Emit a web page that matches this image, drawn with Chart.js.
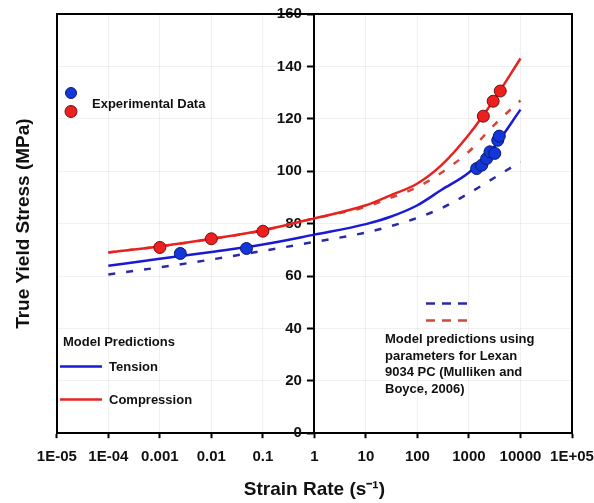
<!DOCTYPE html>
<html>
<head>
<meta charset="utf-8">
<script src="https://cdn.jsdelivr.net/npm/chart.js@4.4.1/dist/chart.umd.min.js"></script>
<style>
  body { margin: 0; background: #fff; }
  #wrap { width: 594px; height: 503px; }
</style>
</head>
<body>
<div id="wrap"><canvas id="myChart"></canvas></div>
<script>
// Decades along the x-axis and how they are written
var rateTicks = [1e-5, 1e-4, 1e-3, 1e-2, 1e-1, 1, 10, 100, 1000, 10000, 1e5];
var rateLabels = ['1E-05', '1E-04', '0.001', '0.01', '0.1', '1', '10', '100', '1000', '10000', '1E+05'];

// Model curves
var modelRates = [1e-4, 1e-3, 1e-2, 1e-1, 1, 10, 30, 100, 300, 1000, 3000, 10000];
var tensionModel = [63.9, 66.6, 69.2, 72.0, 75.8, 79.8, 82.6, 87.0, 93.0, 99.5, 109.0, 123.5];
var compressionModel = [69.0, 71.3, 74.2, 77.5, 82.0, 87.0, 90.8, 95.3, 102.5, 114.0, 127.0, 143.0];
var tensionLexan = [60.6, 63.3, 66.3, 69.6, 73.0, 76.6, 79.0, 82.2, 86.0, 91.6, 97.3, 103.6];
var compressionLexan = [69.0, 71.3, 74.1, 77.4, 82.0, 86.4, 89.8, 93.9, 99.6, 107.5, 117.4, 127.0];

// Experimental data
var tensionRates = [0.0025, 0.048, 1410, 1770, 2200, 2560, 3170, 3620, 3880];
var tensionStress = [68.6, 70.5, 101.0, 102.3, 104.8, 107.4, 106.8, 111.8, 113.4];
var compressionRates = [0.001, 0.01, 0.1, 1900, 2950, 4050];
var compressionStress = [70.9, 74.2, 77.1, 121.0, 126.7, 130.6];

function pairs(xs, ys) {
  return xs.map(function (x, i) { return { x: x, y: ys[i] }; });
}

var FONT = '"Liberation Sans", Arial, sans-serif';
Chart.defaults.font.family = FONT;
Chart.defaults.font.weight = 'bold';
Chart.defaults.color = '#111';

var faint = 'rgba(0,0,0,0.06)';

// hand-drawn legend blocks inside the plot
var notes = {
  id: 'notes',
  afterDraw: function (chart) {
    var ctx = chart.ctx;
    ctx.save();
    ctx.font = 'bold 13px ' + FONT;
    ctx.fillStyle = '#111';
    ctx.textBaseline = 'middle';

    // experimental data
    ctx.lineWidth = 1;
    ctx.beginPath(); ctx.arc(71, 93, 5.5, 0, Math.PI * 2);
    ctx.fillStyle = '#1336d8'; ctx.fill(); ctx.strokeStyle = '#0a1a70'; ctx.stroke();
    ctx.beginPath(); ctx.arc(71, 111.5, 6, 0, Math.PI * 2);
    ctx.fillStyle = '#ee1f1f'; ctx.fill(); ctx.strokeStyle = '#701010'; ctx.stroke();
    ctx.fillStyle = '#111';
    ctx.fillText('Experimental Data', 92, 104.5);

    // model predictions
    ctx.fillText('Model Predictions', 63, 342);
    ctx.lineWidth = 2.5;
    ctx.strokeStyle = '#1a1ad6';
    ctx.beginPath(); ctx.moveTo(60, 366.5); ctx.lineTo(102, 366.5); ctx.stroke();
    ctx.strokeStyle = '#e8231f';
    ctx.beginPath(); ctx.moveTo(60, 399.5); ctx.lineTo(102, 399.5); ctx.stroke();
    ctx.fillText('Tension', 109, 367);
    ctx.fillText('Compression', 109, 400);

    // Lexan predictions
    ctx.setLineDash([9, 7]);
    ctx.strokeStyle = '#2a2aa6';
    ctx.beginPath(); ctx.moveTo(426, 303.5); ctx.lineTo(467, 303.5); ctx.stroke();
    ctx.strokeStyle = '#d0483c';
    ctx.beginPath(); ctx.moveTo(426, 320.5); ctx.lineTo(467, 320.5); ctx.stroke();
    ctx.setLineDash([]);
    var lines = ['Model predictions using', 'parameters for Lexan', '9034 PC (Mulliken and', 'Boyce, 2006)'];
    lines.forEach(function (t, i) { ctx.fillText(t, 385, 339.5 + i * 16.5); });
    ctx.restore();
  }
};

var ctx = document.getElementById('myChart');
var myChart = new Chart(ctx, {
  type: 'line',
  data: {
    datasets: [
      {
        data: pairs(tensionRates, tensionStress),
        showLine: false,
        pointRadius: 6,
        pointBackgroundColor: '#1336d8',
        pointBorderColor: '#0a1a70',
        pointBorderWidth: 1,
        order: 0
      },
      {
        data: pairs(compressionRates, compressionStress),
        showLine: false,
        pointRadius: 6,
        pointBackgroundColor: '#ee1f1f',
        pointBorderColor: '#701010',
        pointBorderWidth: 1,
        order: 0
      },
      {
        data: pairs(modelRates, tensionModel),
        borderColor: '#1a1ad6',
        borderWidth: 2.5,
        pointRadius: 0,
        fill: false,
        cubicInterpolationMode: 'monotone',
        order: 1
      },
      {
        data: pairs(modelRates, compressionModel),
        borderColor: '#e8231f',
        borderWidth: 2.5,
        pointRadius: 0,
        fill: false,
        cubicInterpolationMode: 'monotone',
        order: 1
      },
      {
        data: pairs(modelRates, tensionLexan),
        borderColor: '#2a2aa6',
        borderWidth: 2.5,
        borderDash: [7, 11],
        pointRadius: 0,
        fill: false,
        cubicInterpolationMode: 'monotone',
        order: 2
      },
      {
        data: pairs(modelRates, compressionLexan),
        borderColor: '#d0483c',
        borderWidth: 2.5,
        borderDash: [7, 11],
        pointRadius: 0,
        fill: false,
        cubicInterpolationMode: 'monotone',
        order: 2
      }
    ]
  },
  options: {
    responsive: true,
    maintainAspectRatio: false,
    animation: false,
    layout: { padding: { left: 10, top: 14, right: 2, bottom: 2 } },
    plugins: { legend: { display: false }, tooltip: { enabled: false } },
    scales: {
      x: {
        type: 'logarithmic',
        position: 'bottom',
        min: 1e-5,
        max: 1e5,
        afterBuildTicks: function (scale) {
          scale.ticks = rateTicks.map(function (v) { return { value: v }; });
        },
        // tick padding also widens the side margin; keep only room for the half label
        afterFit: function (scale) { scale.paddingRight = 22; },
        ticks: {
          autoSkip: false,
          maxRotation: 0,
          padding: 10,
          font: { size: 15 },
          callback: function (v, i) { return rateLabels[i]; }
        },
        grid: { color: faint, tickColor: '#000', tickLength: 5, tickWidth: 2 },
        border: { color: '#000', width: 2 },
        title: {
          display: true,
          text: 'Strain Rate (s\u207B\u00B9)',
          font: { size: 19 },
          padding: { top: 2, bottom: 0 }
        }
      },
      y: {
        type: 'linear',
        position: { x: 1 },
        min: 0,
        max: 160,
        // labels sit right against the centred axis, so pad them with spaces
        ticks: { stepSize: 20, font: { size: 15 }, callback: function (v) { return v + '   '; } },
        grid: { color: faint, tickColor: '#000', tickLength: 6, tickWidth: 2 },
        border: { color: '#000', width: 2 }
      },
      yl: {
        type: 'linear',
        position: 'left',
        min: 0,
        max: 160,
        ticks: { display: false },
        grid: { display: false, drawTicks: false },
        border: { color: '#000', width: 2 },
        title: {
          display: true,
          text: 'True Yield Stress (MPa)',
          font: { size: 19 },
          padding: { top: 2, bottom: 22 }
        }
      },
      yr: {
        type: 'linear',
        position: 'right',
        min: 0,
        max: 160,
        ticks: { display: false },
        grid: { display: false, drawTicks: false },
        border: { color: '#000', width: 2 }
      },
      xt: {
        type: 'linear',
        position: 'top',
        min: 0,
        max: 1,
        ticks: { display: false },
        grid: { display: false, drawTicks: false },
        border: { color: '#000', width: 2 }
      }
    }
  },
  plugins: [notes]
});
</script>
</body>
</html>
